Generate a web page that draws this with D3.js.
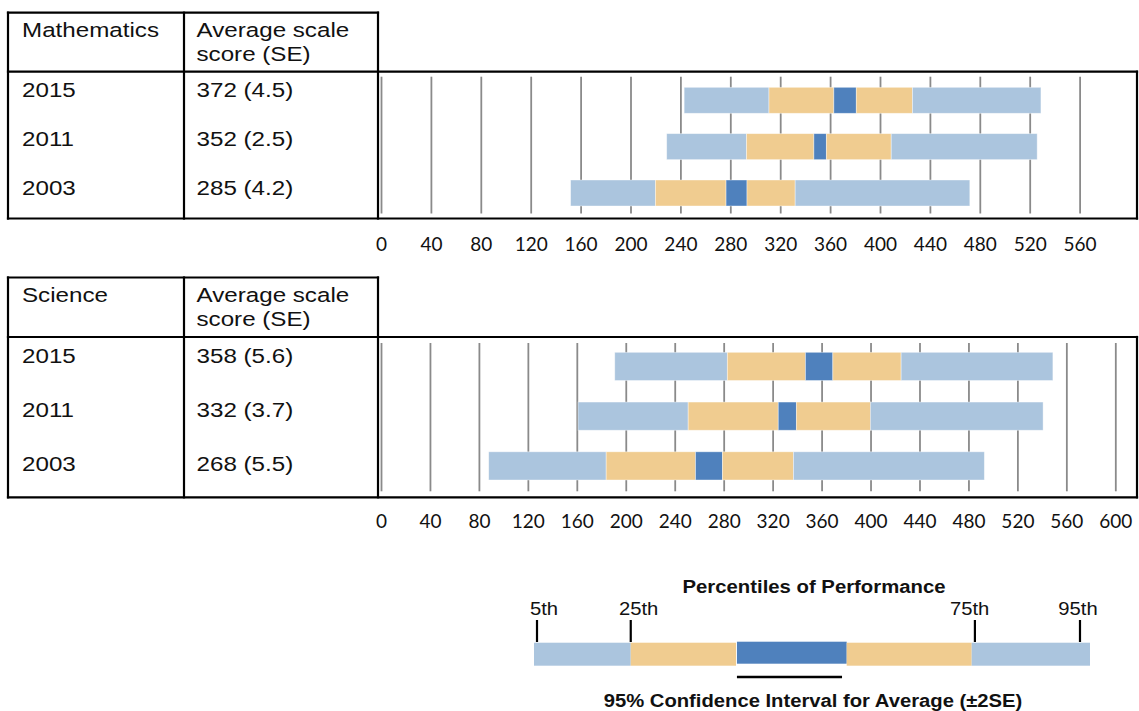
<!DOCTYPE html>
<html>
<head>
<meta charset="utf-8">
<script src="https://cdn.jsdelivr.net/npm/d3@7"></script>
<style>
  body { margin: 0; background: #fff; }
  svg { display: block; }
</style>
</head>
<body>
<svg id="chart" width="1139" height="711"></svg>
<script>
// years shown in both panels
const years = ["2015", "2011", "2003"];

// Mathematics
const mathMean = [372, 352, 285];
const mathSE = [4.5, 2.5, 4.2];
const mathP5 = [243, 229, 152];
const mathP25 = [311, 293, 220];
const mathP75 = [426, 409, 332];
const mathP95 = [529, 526, 472];
const mathTicks = [0, 40, 80, 120, 160, 200, 240, 280, 320, 360, 400, 440, 480, 520, 560];

// Science
const sciMean = [358, 332, 268];
const sciSE = [5.6, 3.7, 5.5];
const sciP5 = [191, 161, 88];
const sciP25 = [283, 251, 184];
const sciP75 = [425, 400, 337];
const sciP95 = [549, 541, 493];
const sciTicks = [0, 40, 80, 120, 160, 200, 240, 280, 320, 360, 400, 440, 480, 520, 560, 600];

// legend
const legendLabels = ["5th", "25th", "75th", "95th"];

const lightBlue = "#abc5de";
const tan = "#f0cc90";
const darkBlue = "#4f81bd";
const tableFont = "'Liberation Sans', Arial, Helvetica, sans-serif";
const axisFont = "Lato, 'Open Sans', sans-serif";

const svg = d3.select("#chart");

// text in the reference is a bit wider than plain Arial, so stretch it
const wideText = (g, x, y, str, opts = {}) => {
  const { size = 19.5, sx = 1.24, anchor = "start", weight = "normal" } = opts;
  return g.append("text")
    .attr("transform", `translate(${x},${y}) scale(${sx},1)`)
    .attr("text-anchor", anchor)
    .attr("font-family", tableFont)
    .attr("font-size", size)
    .attr("font-weight", weight)
    .attr("fill", "#111")
    .text(str);
};

const drawPanel = (props) => {
  const { subject, mean, se, p5, p25, p75, p95, ticks, top, divider, bottom,
          xEnd, bandTop, bandBottom, bandPad, textY, gridInset, tickY } = props;

  const left = 8, col1 = 184, col2 = 378, right = 1137;
  const g = svg.append("g");

  const x = d3.scaleLinear()
    .domain([0, d3.max(ticks)])
    .range([381, xEnd]);

  const y = d3.scaleBand()
    .domain(years)
    .range([bandTop, bandBottom])
    .paddingInner(bandPad)
    .paddingOuter(0);

  // grid lines
  g.append("g")
    .attr("transform", `translate(0,${bottom - gridInset})`)
    .call(d3.axisBottom(x).tickValues(ticks).tickSize(-(bottom - divider - 2 * gridInset)).tickFormat(""))
    .call(s => s.select(".domain").remove())
    .selectAll("line")
    .attr("stroke", "#8a8a8a")
    .attr("stroke-width", 1.8);

  // tick labels under the box
  g.append("g")
    .attr("transform", `translate(0,${tickY})`)
    .call(d3.axisBottom(x).tickValues(ticks).tickSize(0).tickPadding(0))
    .call(s => s.select(".domain").remove())
    .selectAll("text")
    .attr("font-family", axisFont)
    .attr("font-size", 19)
    .attr("fill", "#111");

  // bars
  const rows = years.map((yr, i) => {
    const lo = mean[i] - 2 * se[i];
    const hi = mean[i] + 2 * se[i];
    return {
      year: yr,
      segs: [
        [p5[i], p25[i], lightBlue],
        [p25[i], lo, tan],
        [lo, hi, darkBlue],
        [hi, p75[i], tan],
        [p75[i], p95[i], lightBlue]
      ]
    };
  });

  g.selectAll(".row")
    .data(rows)
    .join("g")
    .attr("class", "row")
    .attr("transform", d => `translate(0,${y(d.year)})`)
    .selectAll("rect")
    .data(d => d.segs)
    .join("rect")
    .attr("x", d => x(d[0]))
    .attr("width", d => x(d[1]) - x(d[0]))
    .attr("height", y.bandwidth())
    .attr("fill", d => d[2])
    .attr("stroke", "#fff")
    .attr("stroke-opacity", 0.5)
    .attr("stroke-width", 0.8);

  // table lines
  const lines = [
    [left, top, col2, top],
    [left, divider, right, divider],
    [left, bottom, right, bottom],
    [left, top, left, bottom],
    [col1, top, col1, bottom],
    [col2, top, col2, bottom],
    [right, divider, right, bottom]
  ];
  g.selectAll(".border")
    .data(lines)
    .join("line")
    .attr("class", "border")
    .attr("x1", d => d[0]).attr("y1", d => d[1])
    .attr("x2", d => d[2]).attr("y2", d => d[3])
    .attr("stroke", "#000")
    .attr("stroke-width", 2.2)
    .attr("stroke-linecap", "square");

  // table text
  wideText(g, 22, top + 24, subject);
  wideText(g, 196.5, top + 24, "Average scale");
  wideText(g, 196.5, top + 48.5, "score (SE)");
  years.forEach((yr, i) => {
    wideText(g, 22, textY[i], yr);
    wideText(g, 196.5, textY[i], `${mean[i]} (${se[i].toFixed(1)})`);
  });
};

drawPanel({
  subject: "Mathematics",
  mean: mathMean, se: mathSE, p5: mathP5, p25: mathP25, p75: mathP75, p95: mathP95,
  ticks: mathTicks,
  top: 12.7, divider: 71.7, bottom: 218.5,
  xEnd: 1079.6,
  bandTop: 87.3, bandBottom: 206, bandPad: 0.439,
  textY: [97, 146, 195],
  gridInset: 5,
  tickY: 237.5
});

drawPanel({
  subject: "Science",
  mean: sciMean, se: sciSE, p5: sciP5, p25: sciP25, p75: sciP75, p95: sciP95,
  ticks: sciTicks,
  top: 277.5, divider: 337, bottom: 497.3,
  xEnd: 1115.3,
  bandTop: 352.3, bandBottom: 480, bandPad: 0.433,
  textY: [363, 417, 471],
  gridInset: 6,
  tickY: 514.5
});

// legend
const lg = svg.append("g");
const lx = d3.scaleLinear().domain([0, 100]).range([534, 1090]);

const legendSegs = [
  [0, 17.4, lightBlue, 642.7, 23],
  [17.4, 36.33, tan, 642.7, 23],
  [36.5, 56.24, darkBlue, 641.7, 22],
  [56.24, 78.72, tan, 642.7, 23],
  [78.72, 100, lightBlue, 642.7, 23]
];
lg.selectAll("rect")
  .data(legendSegs)
  .join("rect")
  .attr("x", d => lx(d[0]))
  .attr("width", d => lx(d[1]) - lx(d[0]))
  .attr("y", d => d[3])
  .attr("height", d => d[4])
  .attr("fill", d => d[2]);

const legendTickPos = [0.54, 17.4, 79.3, 98.2];
const legendLabelPos = [-0.72, 15.29, 74.82, 94.3];

lg.selectAll(".ltick")
  .data(legendTickPos)
  .join("line")
  .attr("class", "ltick")
  .attr("x1", d => lx(d)).attr("x2", d => lx(d))
  .attr("y1", 620).attr("y2", 642)
  .attr("stroke", "#000")
  .attr("stroke-width", 2.2);

legendLabels.forEach((lab, i) => {
  wideText(lg, lx(legendLabelPos[i]), 615, lab, { size: 19, sx: 1.065 });
});

wideText(lg, 814, 593, "Percentiles of Performance", { size: 19, sx: 1.07, anchor: "middle", weight: "bold" });

// CI underline
lg.append("line")
  .attr("x1", lx(36.5)).attr("x2", lx(55.4))
  .attr("y1", 677).attr("y2", 677)
  .attr("stroke", "#000")
  .attr("stroke-width", 2.5);

wideText(lg, 813, 707, "95% Confidence Interval for Average (\u00b12SE)", { size: 19, sx: 1.065, anchor: "middle", weight: "bold" });
</script>
</body>
</html>
